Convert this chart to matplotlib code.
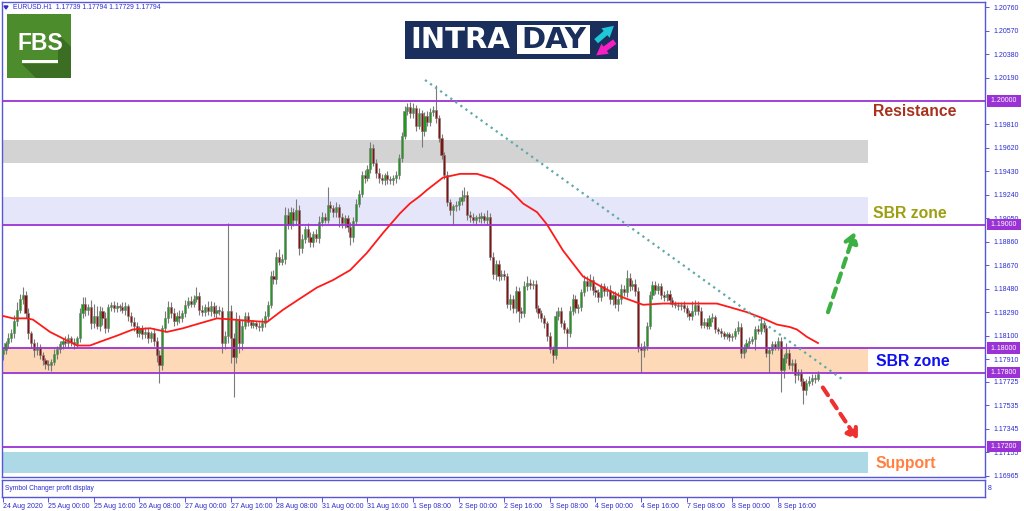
import matplotlib
matplotlib.use("Agg")
import matplotlib.pyplot as plt
from matplotlib.patches import Rectangle, Polygon, FancyArrowPatch
from matplotlib.transforms import blended_transform_factory
import numpy as np

# ---------------- data ----------------
symbol_header = "EURUSD.H1  1.17739 1.17794 1.17729 1.17794"
price_base = 1.17000
pip = 0.0001
first_open_pips = 95

close_pips = [
    98, 104, 108, 112, 122, 131, 140, 143, 128, 112, 104, 98, 101, 94, 90, 87, 86, 89, 95, 99,
    103, 106, 104, 108, 105, 103, 108, 128, 136, 131, 133, 120, 126, 118, 130, 124, 116, 133, 135, 132,
    134, 133, 131, 134, 126, 121, 118, 112, 116, 111, 113, 108, 112, 106, 94, 86, 116, 124, 133, 128,
    122, 126, 124, 128, 135, 138, 136, 140, 142, 131, 129, 133, 130, 134, 128, 131, 130, 104, 110, 130,
    108, 93, 123, 104, 118, 126, 121, 119, 120, 118, 117, 120, 126, 135, 158, 156, 174, 170, 172, 208,
    200, 210, 204, 212, 181, 188, 196, 190, 186, 192, 189, 202, 206, 204, 216, 213, 210, 214, 206, 201,
    205, 198, 190, 203, 217, 225, 240, 238, 245, 262, 250, 242, 238, 236, 240, 237, 236, 238, 240, 254,
    272, 292, 295, 290, 294, 280, 290, 276, 288, 283, 291, 293, 286, 270, 256, 240, 218, 212, 215, 216,
    219, 222, 224, 208, 206, 204, 206, 205, 207, 204, 206, 174, 160, 168, 158, 160, 158, 136, 140, 132,
    146, 130, 128, 150, 153, 151, 152, 132, 128, 124, 120, 110, 99, 94, 126, 130, 120, 115, 112, 130,
    140, 132, 133, 145, 154, 150, 155, 147, 145, 141, 150, 146, 147, 140, 143, 136, 140, 148, 145, 157,
    150, 152, 146, 101, 98, 102, 118, 143, 151, 147, 150, 143, 141, 144, 139, 136, 135, 134, 135, 132,
    128, 126, 130, 135, 130, 119, 121, 118, 124, 125, 115, 114, 112, 110, 111, 109, 110, 114, 117, 96,
    100, 104, 106, 107, 115, 114, 120, 116, 96, 98, 103, 101, 106, 82, 92, 96, 86, 88, 78, 80,
    73, 66, 72, 73, 76, 75, 79]

upper_wick_pips = [
    3, 2, 4, 3, 5, 6, 4, 6, 3, 4, 2, 3, 4, 2, 3, 2, 3, 2, 4, 3,
    3, 2, 4, 3, 2, 3, 2, 4, 5, 5, 3, 6, 10, 8, 4, 3, 5, 3, 2, 3,
    3, 2, 4, 3, 2, 3, 4, 3, 2, 3, 4, 3, 2, 4, 3, 4, 3, 6, 5, 4,
    4, 3, 5, 3, 4, 3, 4, 3, 7, 3, 4, 3, 5, 4, 3, 4, 3, 3, 4, 71,
    5, 4, 6, 4, 5, 3, 3, 2, 3, 2, 3, 4, 4, 3, 4, 5, 4, 6, 4, 6,
    5, 4, 3, 9, 4, 4, 3, 5, 4, 3, 4, 5, 4, 3, 14, 3, 3, 4, 3, 3,
    3, 3, 4, 3, 4, 3, 3, 4, 3, 5, 3, 3, 4, 3, 2, 3, 2, 2, 3, 3,
    3, 4, 3, 4, 4, 3, 4, 3, 3, 4, 3, 3, 20, 3, 3, 3, 3, 3, 2, 3,
    3, 6, 6, 3, 3, 3, 2, 3, 3, 2, 6, 3, 4, 3, 3, 3, 3, 3, 4, 3,
    4, 3, 3, 4, 5, 3, 3, 3, 3, 3, 3, 2, 3, 3, 4, 3, 3, 3, 2, 4,
    4, 3, 3, 3, 5, 4, 5, 3, 3, 3, 3, 3, 3, 4, 3, 3, 5, 4, 3, 6,
    4, 3, 4, 3, 3, 4, 3, 3, 3, 3, 3, 3, 3, 3, 3, 2, 2, 2, 2, 3,
    3, 3, 8, 4, 3, 3, 3, 3, 3, 3, 2, 2, 2, 2, 2, 2, 2, 2, 5, 3,
    3, 3, 3, 3, 3, 4, 5, 3, 3, 3, 3, 3, 3, 3, 3, 8, 3, 3, 3, 3,
    3, 3, 3, 4, 3, 3, 2]

lower_wick_pips = [
    5, 3, 4, 3, 4, 4, 3, 4, 4, 5, 4, 5, 4, 3, 4, 4, 4, 5, 3, 4,
    3, 4, 3, 4, 3, 4, 3, 3, 4, 5, 4, 5, 4, 3, 4, 5, 4, 3, 3, 3,
    3, 3, 3, 4, 4, 3, 4, 3, 3, 4, 3, 4, 3, 4, 5, 14, 4, 3, 4, 4,
    4, 3, 4, 3, 3, 3, 3, 3, 3, 4, 3, 3, 3, 4, 3, 4, 3, 8, 5, 6,
    20, 33, 5, 8, 6, 3, 3, 3, 3, 3, 3, 3, 3, 4, 3, 4, 4, 3, 3, 4,
    4, 4, 5, 4, 6, 4, 3, 4, 4, 4, 3, 4, 3, 3, 3, 3, 4, 4, 8, 4,
    4, 4, 7, 4, 3, 3, 3, 4, 3, 3, 3, 4, 4, 3, 4, 4, 3, 4, 4, 3,
    3, 3, 3, 4, 4, 4, 3, 13, 4, 3, 3, 3, 4, 3, 3, 3, 3, 4, 12, 4,
    4, 3, 3, 4, 4, 3, 4, 3, 4, 3, 4, 3, 4, 5, 4, 3, 3, 4, 5, 4,
    4, 9, 4, 3, 3, 3, 3, 3, 4, 3, 4, 4, 3, 6, 3, 3, 3, 3, 11, 3,
    3, 4, 4, 3, 3, 4, 3, 4, 4, 4, 3, 4, 4, 4, 5, 4, 6, 4, 3, 4,
    4, 3, 4, 4, 18, 5, 4, 3, 3, 3, 3, 3, 3, 3, 3, 3, 3, 3, 3, 3,
    3, 3, 3, 3, 3, 3, 3, 3, 3, 3, 3, 3, 3, 3, 3, 3, 3, 3, 3, 4,
    4, 3, 3, 3, 9, 3, 3, 3, 3, 16, 3, 3, 3, 18, 6, 4, 3, 5, 6, 4,
    4, 11, 4, 3, 3, 3, 2]

# moving average (bar position, pips above 1.17000)
ma_bars = [0, 3.6, 8.5, 10.6, 16.6, 22.6, 26.1, 30.6, 34.1, 40.1, 45.7, 51.7, 57.6, 63.3,
           69.2, 75.2, 80.8, 86.8, 92.7, 98.4, 104.3, 110.3, 115.9, 121.9, 127.8, 133.4,
           139.4, 142.9, 146.4, 148.9, 154.5, 160.5, 166.4, 172.0, 178.0, 182.6, 187.5,
           191.0, 196.6, 203.6, 210.6, 217.6, 224.7, 231.7, 243.6, 250.6, 255.2, 261.2,
           266.8, 271.7, 276.2, 278.7, 282.2, 286.1]
ma_pips = [126, 124, 124, 123, 113, 106, 102, 102, 105, 110, 115, 116, 113, 116,
           120, 124, 123, 122, 121, 131, 140, 149, 155, 163, 177, 193,
           209, 217, 223, 228, 238, 241, 241, 237, 228, 217, 210,
           200, 179, 158, 149, 141, 135, 136, 136, 136, 133, 129,
           124, 119, 117, 115, 109, 104]

date_labels = ["24 Aug 2020", "25 Aug 00:00", "25 Aug 16:00", "26 Aug 08:00", "27 Aug 00:00",
               "27 Aug 16:00", "28 Aug 08:00", "31 Aug 00:00", "31 Aug 16:00", "1 Sep 08:00",
               "2 Sep 00:00", "2 Sep 16:00", "3 Sep 08:00", "4 Sep 00:00", "4 Sep 16:00",
               "7 Sep 08:00", "8 Sep 00:00", "8 Sep 16:00"]
bars_per_date_label = 16

level_prices = [1.20000, 1.19000, 1.18000, 1.17800, 1.17200]
zone_low = [1.19498, 1.19000, 1.17800, 1.16988]
zone_high = [1.19684, 1.19225, 1.18000, 1.17158]
zone_colors = ["#d3d3d3", "#e6e6fa", "#fdd9b8", "#add8e6"]
zone_end_bar = 303.6

price_ticks = [1.20760, 1.20570, 1.20380, 1.20190, 1.19810, 1.19620, 1.19430, 1.19240,
               1.19050, 1.18860, 1.18670, 1.18480, 1.18290, 1.18100, 1.17910, 1.17725,
               1.17535, 1.17345, 1.17155, 1.16965]

trend_bars = [148.2, 295.5]
trend_prices = [1.20170, 1.17732]

zone_text = ["Resistance", "SBR zone", "SBR zone", "Support"]
zone_text_bars = [305.3, 305.3, 306.3, 306.3]
zone_text_prices = [1.19919, 1.19093, 1.17887, 1.17061]
zone_text_colors = ["#a8321e", "#9e9e12", "#1010ee", "#ff8040"]

up_arrow_bars = [289.6, 299.0]
up_arrow_prices = [1.18290, 1.18940]
down_arrow_bars = [287.8, 300.1]
down_arrow_prices = [1.17680, 1.17254]

# ---------------- figure ----------------
plt.rcParams["font.family"] = ["Liberation Sans", "DejaVu Sans"]
frame_col = "#5656d8"
txt_blue = "#2b2bd0"
level_col = "#9b32d6"

W, H = 1024, 511
fig = plt.figure(figsize=(W / 100, H / 100), dpi=100)
fig.patch.set_facecolor("white")

def px_rect(x0, y0, x1, y1):
    return [x0 / W, 1 - y1 / H, (x1 - x0) / W, (y1 - y0) / H]

ax = fig.add_axes(px_rect(2, 2, 985, 477))
sub = fig.add_axes(px_rect(2, 480, 985, 497))

n = len(close_pips)
idx = np.arange(n)
c = price_base + np.array(close_pips, dtype=float) * pip
o = np.r_[price_base + first_open_pips * pip, c[:-1]]
h = np.maximum(o, c) + np.array(upper_wick_pips[:n], dtype=float) * pip
l = np.minimum(o, c) - np.array(lower_wick_pips[:n], dtype=float) * pip

x_lo, x_hi = -0.25, 344.7
ax.set_xlim(x_lo, x_hi)
ax.set_ylim(1.169555, 1.208016)

# zones
for lo, hi, col in zip(zone_low, zone_high, zone_colors):
    ax.add_patch(Rectangle((x_lo, lo), zone_end_bar - x_lo, hi - lo, facecolor=col,
                           edgecolor="none", zorder=1))

# candles
wick_col = "#7a7a7a"
ax.vlines(idx, l, h, color=wick_col, lw=0.8, zorder=2)
bull = c >= o
body_b = np.minimum(o, c)
body_h = np.maximum(np.abs(c - o), 0.00003)
ax.bar(idx[bull], body_h[bull], bottom=body_b[bull], width=0.75, color="#1f9a1f",
       edgecolor=wick_col, linewidth=0.4, zorder=3)
ax.bar(idx[~bull], body_h[~bull], bottom=body_b[~bull], width=0.75, color="#8a0f0f",
       edgecolor=wick_col, linewidth=0.4, zorder=3)

# levels
for p in level_prices:
    ax.axhline(p, color=level_col, lw=1.3, zorder=4)

# moving average
ax.plot(ma_bars, price_base + np.array(ma_pips) * pip, color="#ff1a1a", lw=1.3, zorder=5)

# trend line
ax.plot(trend_bars, trend_prices, color="#5fa9a9", lw=1.6, linestyle=(0, (1, 1.8)), zorder=5)

# zone labels
for t, xb, yp, col in zip(zone_text, zone_text_bars, zone_text_prices, zone_text_colors):
    ax.text(xb, yp, t, color=col, fontsize=11.3, fontweight="bold",
            family="Liberation Sans", va="center", ha="left", zorder=6)

# arrows
ax.annotate("", xy=(up_arrow_bars[1], up_arrow_prices[1]), xytext=(up_arrow_bars[0], up_arrow_prices[0]),
            arrowprops=dict(arrowstyle="-|>,head_length=0.6,head_width=0.4", color="#3cb043",
                            lw=3, linestyle=(0, (2.2, 1.6)), shrinkA=0, shrinkB=0), zorder=6)
ax.annotate("", xy=(down_arrow_bars[1], down_arrow_prices[1]), xytext=(down_arrow_bars[0], down_arrow_prices[0]),
            arrowprops=dict(arrowstyle="-|>,head_length=0.6,head_width=0.4", color="#ee3030",
                            lw=3, linestyle=(0, (2.2, 1.6)), shrinkA=0, shrinkB=0), zorder=6)

# right price axis
ax.yaxis.tick_right()
ax.set_yticks(price_ticks)
ax.set_yticklabels([f"{p:.5f}" for p in price_ticks])
ax.tick_params(axis="y", length=3, width=0.7, color=frame_col, labelsize=5,
               labelcolor=txt_blue, pad=3)
ax.tick_params(axis="x", bottom=False, labelbottom=False)
for s in ax.spines.values():
    s.set_color(frame_col)
    s.set_linewidth(1.0)

trans = blended_transform_factory(ax.transAxes, ax.transData)
for p in level_prices:
    ax.text(1.0042, p, f" {p:.5f} ", transform=trans, fontsize=5, color="white",
            va="center", ha="left", zorder=7, clip_on=False,
            bbox=dict(boxstyle="square,pad=0.3", fc=level_col, ec="none"))

# sub window with time axis
sub.set_xlim(x_lo, x_hi)
sub.set_ylim(0, 1)
sub.set_yticks([])
tick_bars = [i * bars_per_date_label for i in range(len(date_labels))]
sub.set_xticks(tick_bars)
sub.set_xticklabels(date_labels)
sub.tick_params(axis="x", length=3.5, width=0.7, color=frame_col, labelsize=5,
                labelcolor=txt_blue, pad=1.0)
for lbl in sub.get_xticklabels():
    lbl.set_ha("left")
for s in sub.spines.values():
    s.set_color(frame_col)
    s.set_linewidth(1.0)
sub.text(0.003, 0.5, "Symbol Changer profit display", transform=sub.transAxes,
         fontsize=4.8, color=txt_blue, va="center", ha="left")
sub.text(1.003, 0.5, "8", transform=sub.transAxes, fontsize=5, color=txt_blue,
         va="center", ha="left", clip_on=False)

# ---------------- overlay: header & logos (pixel coords) ----------------
ov = fig.add_axes([0, 0, 1, 1], zorder=10)
ov.set_xlim(0, W)
ov.set_ylim(H, 0)
ov.axis("off")
ov.patch.set_alpha(0)

ov.add_patch(Polygon([(4, 6), (8, 6), (6, 9)], closed=True, color=txt_blue))
ov.text(13, 7.5, symbol_header, fontsize=4.9, color=txt_blue, va="center", ha="left")

# FBS logo
ov.add_patch(Rectangle((7, 14), 64, 64, facecolor="#4d8c2c", edgecolor="none"))
ov.add_patch(Polygon([(58, 34), (71, 47), (71, 78), (36, 78), (22, 64), (58, 64)],
                     closed=True, facecolor="#3b6d22", edgecolor="none"))
ov.text(40.5, 44, "FBS", fontsize=16.5, fontweight="bold", color="white",
        family="Liberation Sans", ha="center", va="center")
ov.add_patch(Rectangle((22, 60.5), 36, 3, facecolor="white", edgecolor="none"))

# INTRADAY logo
ov.add_patch(Rectangle((405, 21), 213, 38, facecolor="#1b2f5c", edgecolor="none"))
ov.text(410, 40.5, "INTRA", fontsize=21, fontweight="bold", color="white",
        family="DejaVu Sans", ha="left", va="center")
ov.add_patch(Rectangle((517, 25), 73, 29, facecolor="white", edgecolor="none"))
ov.text(553.5, 40.5, "DAY", fontsize=21, fontweight="bold", color="#1b2f5c",
        family="DejaVu Sans", ha="center", va="center")
ov.add_patch(FancyArrowPatch((594, 43), (616, 24), arrowstyle="simple,head_width=9,head_length=8,tail_width=4",
                             color="#1ec8d8", lw=0, mutation_scale=1))
ov.add_patch(FancyArrowPatch((617, 40), (594, 57), arrowstyle="simple,head_width=9,head_length=8,tail_width=4",
                             color="#f51fc4", lw=0, mutation_scale=1))

fig.savefig("out.png", dpi=100, facecolor="white")
